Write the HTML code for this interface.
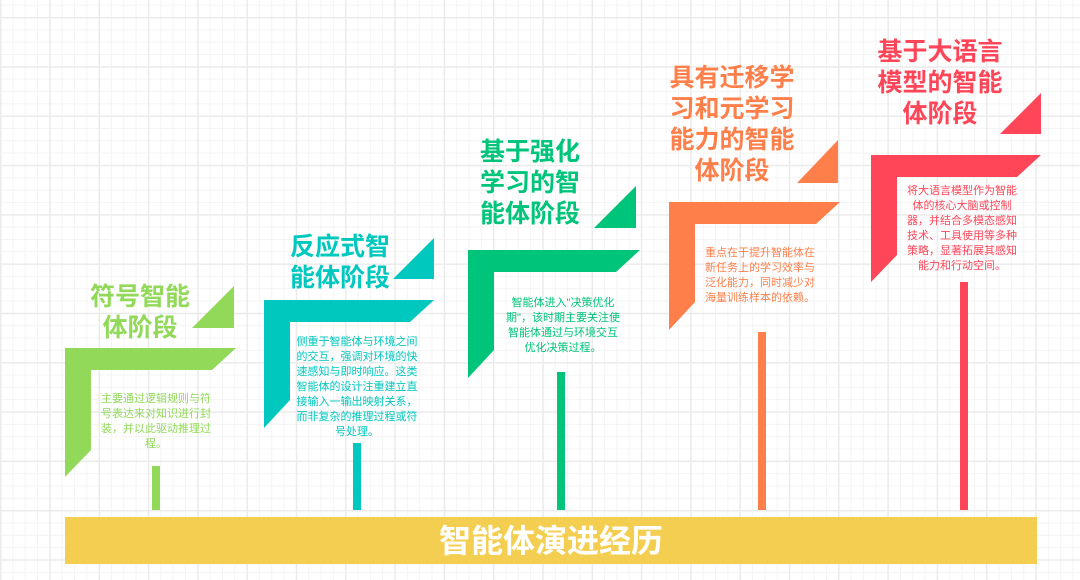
<!DOCTYPE html>
<html><head><meta charset="utf-8"><style>
html,body{margin:0;padding:0}
body{width:1080px;height:580px;position:relative;overflow:hidden;background-color:#fff;
background-image:linear-gradient(#ebebeb 1.5px,transparent 1.5px),linear-gradient(90deg,#ebebeb 1.5px,transparent 1.5px),linear-gradient(#f4f4f4 1px,transparent 1px),linear-gradient(90deg,#f4f4f4 1px,transparent 1px);
background-size:49.3px 49.3px,49.3px 49.3px,12.33px 12.33px,12.33px 12.33px;background-position:0 17px,0 0,0 17px,0 0;
font-family:"Liberation Sans","Noto Sans CJK SC",sans-serif}
.t{position:absolute;font-weight:bold;font-size:25px;line-height:31px;text-align:center;white-space:nowrap}
.d{position:absolute;font-size:11px;line-height:15px;text-align:center;white-space:nowrap}
svg{position:absolute;left:0;top:0}
</style></head><body>
<svg width="1080" height="580">
<g fill="#92D95A"><polygon points="65,348 236,348 212,370 91,370 91,450 65,477"/><polygon points="234,286 192,328 234,328"/><rect x="152" y="466" width="8" height="44"/></g>
<g fill="#00C8BE"><polygon points="264,300 434,300 410,322 290,322 290,400 264,428"/><polygon points="434,238 393,279 434,279"/><rect x="353" y="443" width="8" height="67"/></g>
<g fill="#00C47A"><polygon points="468,250 640,250 616,272 494,272 494,350 468,378"/><polygon points="636,186 594,228 636,228"/><rect x="557" y="372" width="8" height="138"/></g>
<g fill="#FF7F4A"><polygon points="669,202 840,202 816,224 695,224 695,302 669,330"/><polygon points="838,140 797,183 838,183"/><rect x="758" y="332" width="8" height="178"/></g>
<g fill="#FF4658"><polygon points="871,155 1041,155 1017,177 897,177 897,255 871,282"/><polygon points="1041,93 1000,134 1041,134"/><rect x="960" y="282" width="8" height="228"/></g>
<rect x="65" y="517" width="972" height="47" fill="#F4CE50"/>
</svg>
<div class="t" style="left:60px;width:160px;top:282px;color:#92D95A">符号智能<br>体阶段</div>
<div class="d" style="left:86px;width:140px;top:392px;color:#92D95A">主要通过逻辑规则与符<br>号表达来对知识进行封<br>装，并以此驱动推理过<br>程。</div>
<div class="t" style="left:260px;width:160px;top:232px;color:#00C8BE">反应式智<br>能体阶段</div>
<div class="d" style="left:287px;width:140px;top:335px;color:#00C8BE">侧重于智能体与环境之间<br>的交互，强调对环境的快<br>速感知与即时响应。这类<br>智能体的设计注重建立直<br>接输入一输出映射关系，<br>而非复杂的推理过程或符<br>号处理。</div>
<div class="t" style="left:460px;width:140px;top:137px;color:#00C47A">基于强化<br>学习的智<br>能体阶段</div>
<div class="d" style="left:493px;width:140px;top:296px;color:#00C47A">智能体进入"决策优化<br>期"，该时期主要关注使<br>智能体通过与环境交互<br>优化决策过程。</div>
<div class="t" style="left:652px;width:160px;top:63px;color:#FF7F4A">具有迁移学<br>习和元学习<br>能力的智能<br>体阶段</div>
<div class="d" style="left:705px;width:120px;top:246px;color:#FF7F4A;text-align:left">重点在于提升智能体在<br>新任务上的学习效率与<br>泛化能力，同时减少对<br>海量训练样本的依赖。</div>
<div class="t" style="left:860px;width:160px;top:37px;color:#FF4658">基于大语言<br>模型的智能<br>体阶段</div>
<div class="d" style="left:892px;width:140px;top:184px;color:#FF4658">将大语言模型作为智能<br>体的核心大脑或控制<br>器，并结合多模态感知<br>技术、工具使用等多种<br>策略，显著拓展其感知<br>能力和行动空间。</div>
<div class="t" style="left:65px;width:972px;top:523px;font-size:32px;line-height:36px;color:#fff">智能体演进经历</div>
</body></html>
